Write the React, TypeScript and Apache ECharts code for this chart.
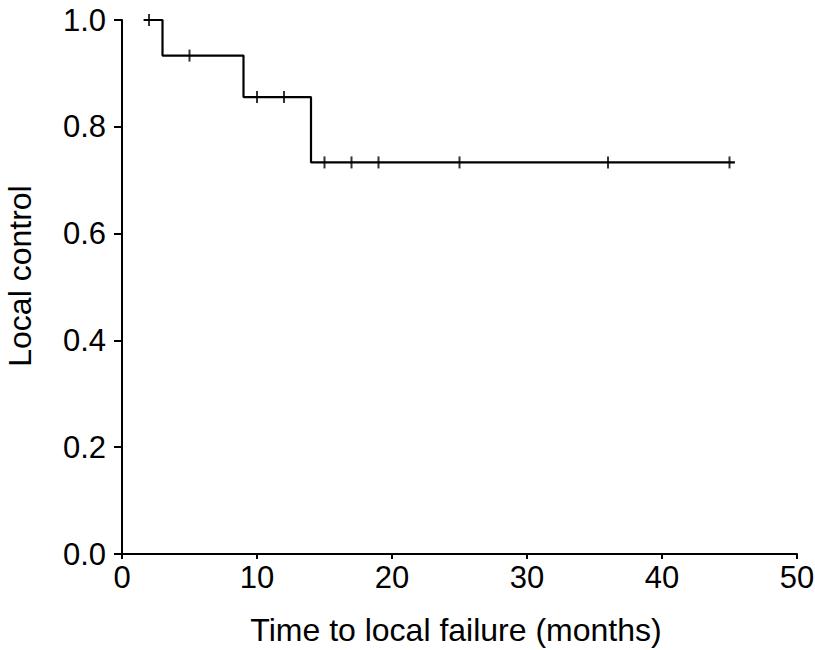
import React, { useEffect, useRef } from "react";
import * as echarts from "echarts";

const stepTimes = [1.6, 3, 9, 14, 45.4];
const stepSurvival = [1.0, 0.9333, 0.8556, 0.7333, 0.7333];
const censorTimes = [2, 5, 10, 12, 15, 17, 19, 25, 36, 45];
const censorSurvival = [1.0, 0.9333, 0.8556, 0.8556, 0.7333, 0.7333, 0.7333, 0.7333, 0.7333, 0.7333];
const xTicks = [0, 10, 20, 30, 40, 50];
const yTicks = [0, 0.2, 0.4, 0.6, 0.8, 1.0];

export default function App() {
  const ref = useRef<HTMLDivElement>(null);
  useEffect(() => {
    if (!ref.current) return;
    const chart = echarts.init(ref.current, null, { renderer: "svg" });
    const font = "'Liberation Sans', Arial, Helvetica, sans-serif";
    chart.setOption({
      animation: false,
      backgroundColor: "#fff",
      grid: { left: 122, right: 18, top: 20, bottom: 96, containLabel: false, outerBoundsMode: "none" },
      xAxis: {
        type: "value",
        min: xTicks[0],
        max: xTicks[xTicks.length - 1],
        interval: 10,
        name: "Time to local failure (months)",
        nameLocation: "middle",
        nameGap: 60,
        nameTextStyle: { fontFamily: font, fontSize: 32, color: "#000", padding: [0, 7, 0, 0] },
        axisLine: { show: true, lineStyle: { color: "#000", width: 2 } },
        axisTick: { show: true, length: 5, lineStyle: { color: "#000", width: 2 } },
        axisLabel: { fontFamily: font, fontSize: 31, color: "#000", margin: 8 },
        splitLine: { show: false },
      },
      yAxis: {
        type: "value",
        min: yTicks[0],
        max: yTicks[yTicks.length - 1],
        interval: 0.2,
        name: "Local control",
        nameLocation: "middle",
        nameGap: 86,
        nameTextStyle: { fontFamily: font, fontSize: 32, color: "#000", padding: [0, 0, 0, 22] },
        axisLine: { show: true, lineStyle: { color: "#000", width: 2 } },
        axisTick: { show: true, length: 8, lineStyle: { color: "#000", width: 2 } },
        axisLabel: {
          fontFamily: font,
          fontSize: 31,
          color: "#000",
          margin: 16,
          formatter: (v: number) => v.toFixed(1),
        },
        splitLine: { show: false },
      },
      series: [
        {
          type: "line",
          step: "end",
          data: stepTimes.map((t, i) => [t, stepSurvival[i]]),
          showSymbol: false,
          lineStyle: { color: "#000", width: 2.2 },
          silent: true,
        },
        {
          type: "scatter",
          data: censorTimes.map((t, i) => [t, censorSurvival[i]]),
          symbol: "rect",
          symbolSize: [2, 12],
          itemStyle: { color: "#000" },
          silent: true,
        },
      ],
    });
    return () => chart.dispose();
  }, []);
  return <div ref={ref} style={{ width: 815, height: 650, position: "absolute", left: 0, top: 0 }} />;
}
